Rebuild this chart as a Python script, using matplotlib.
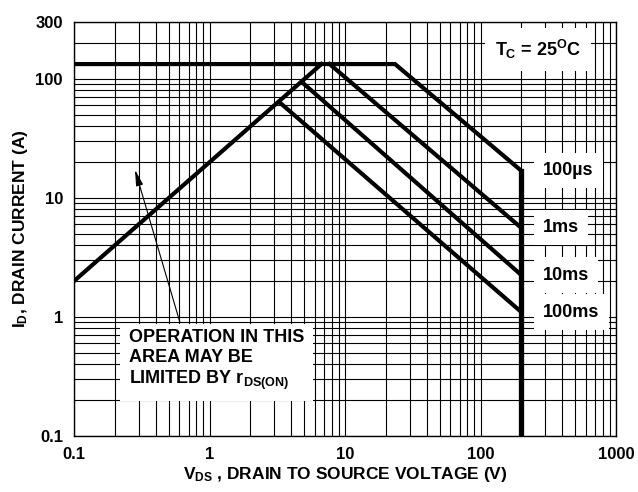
import numpy as np
import matplotlib
matplotlib.use("Agg")
import matplotlib.pyplot as plt
from matplotlib.ticker import LogLocator, NullFormatter

# ---- data (V in volts, I in amps) ----
I_LIMIT = 133.0          # package current limit
V_BREAK = 200.0          # BVdss
RDS_V = [0.1, 6.7]       # r_DS(on) limit line
RDS_I = [2.0, 133.0]
PULSES = ["100\u00b5s", "1ms", "10ms", "100ms"]
KNEE_V = [23.4, 7.7, 4.8, 3.26]
KNEE_I = [133.0, 133.0, 94.0, 64.0]
END_I = [16.9, 5.6, 2.25, 1.1]
X_TICKS = [0.1, 1, 10, 100, 1000]
X_LABELS = ["0.1", "1", "10", "100", "1000"]
Y_TICKS = [0.1, 1, 10, 100, 300]
Y_LABELS = ["0.1", "1", "10", "100", "300"]

plt.rcParams.update({
    "font.family": ["Liberation Sans", "DejaVu Sans"],
    "font.weight": "bold",
    "axes.labelweight": "bold",
    "font.size": 12,
    "mathtext.fontset": "custom",
    "mathtext.rm": "Liberation Sans:bold",
    "mathtext.it": "Liberation Sans:bold",
    "mathtext.bf": "Liberation Sans:bold",
    "axes.edgecolor": "black",
    "axes.linewidth": 1.0,
})

fig = plt.figure(figsize=(6.38, 4.92), dpi=100)
ax = fig.add_axes([74 / 638, 56 / 492, 542 / 638, 414 / 492])
ax.set_xscale("log"); ax.set_yscale("log")
ax.set_xlim(X_TICKS[0], X_TICKS[-1]); ax.set_ylim(Y_TICKS[0], Y_TICKS[-1])

ax.set_xticks(X_TICKS, X_LABELS); ax.set_yticks(Y_TICKS, Y_LABELS)
for a in (ax.xaxis, ax.yaxis):
    a.set_minor_locator(LogLocator(base=10, subs=range(2, 10)))
    a.set_minor_formatter(NullFormatter())
ax.tick_params(which="both", length=0, pad=8, labelsize=12)
ax.grid(True, which="both", color="black", linewidth=0.8)
ax.set_axisbelow(True)

LW = 3.0
# 100us curve: current limit, power line, then breakdown voltage
ax.plot([X_TICKS[0], KNEE_V[0], V_BREAK, V_BREAK],
        [I_LIMIT, KNEE_I[0], END_I[0], Y_TICKS[0]],
        color="black", lw=LW, solid_joinstyle="miter", zorder=6)
ax.plot([V_BREAK, V_BREAK], [END_I[0], Y_TICKS[0]], color="black", lw=LW + 0.8, zorder=6)
ax.plot(RDS_V, RDS_I, color="black", lw=LW, zorder=6)
for kv, ki, ei in zip(KNEE_V[1:], KNEE_I[1:], END_I[1:]):
    ax.plot([kv, V_BREAK], [ki, ei], color="black", lw=LW, zorder=6)

box = dict(boxstyle="square,pad=0.5", fc="white", ec="none")
for name, ei in zip(PULSES, END_I):
    ax.text(290, ei, name, ha="left", va="center", fontsize=13, bbox=box, zorder=5)

ax.text(128, 177, r"$T_C$ = 25$^O$C", ha="left", va="center", fontsize=13,
        bbox=dict(boxstyle="square,pad=0.55", fc="white", ec="none"), zorder=5)

ax.text(0.2546, 0.43, "OPERATION IN THIS\nAREA MAY BE\nLIMITED BY $r_{DS(ON)}$",
        ha="left", va="center", fontsize=13, linespacing=1.2,
        bbox=dict(boxstyle="square,pad=0.5", fc="white", ec="none"), zorder=5)
ax.annotate("", xy=(0.282, 17.2), xytext=(0.605, 0.9),
            arrowprops=dict(arrowstyle="-|>,head_length=0.8,head_width=0.18",
                            color="black", lw=0.8, shrinkA=0, shrinkB=0), zorder=7)

ax.set_xlabel(r"$V_{DS}$ , DRAIN TO SOURCE VOLTAGE (V)", fontsize=12.5, labelpad=2)
ax.set_ylabel(r"$I_D$, DRAIN CURRENT (A)", fontsize=12.5, labelpad=4)

fig.savefig("out.png", dpi=100, facecolor="white")
